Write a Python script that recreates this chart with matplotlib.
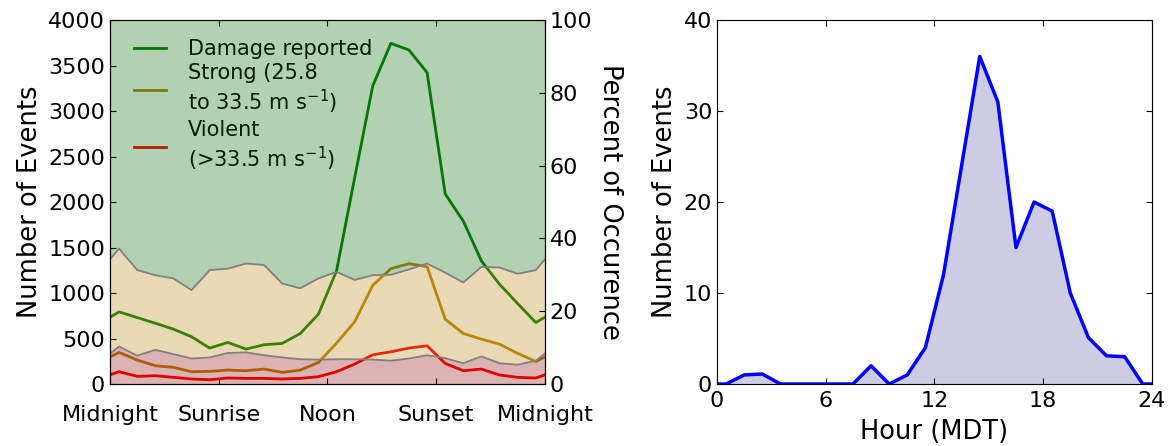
import numpy as np
from matplotlib import pyplot as plt

# hourly bins (bin centres at 0.5 ... 23.5)
hours = np.arange(24) + 0.5

damage = [793, 730, 668, 603, 519, 395, 457, 384, 431, 446, 555, 767,
          1242, 2265, 3277, 3744, 3671, 3423, 2089, 1790, 1352, 1096, 884, 676]
strong = [347, 263, 201, 183, 135, 139, 153, 146, 164, 128, 153, 237,
          449, 683, 1085, 1268, 1322, 1289, 712, 555, 493, 438, 336, 248]
violent = [135, 84, 91, 73, 55, 47, 66, 62, 62, 55, 62, 80,
           135, 219, 321, 354, 395, 420, 226, 146, 164, 99, 73, 66]

violent_pct = [10.3, 7.8, 9.4, 8.2, 7.0, 7.3, 8.5, 8.7, 7.9, 7.3, 6.8, 6.7,
               6.8, 6.8, 6.7, 6.4, 7.0, 7.9, 7.1, 5.7, 7.6, 5.7, 5.3, 6.4]
strong_pct = [26.9, 23.5, 20.5, 20.8, 18.8, 24.0, 23.2, 24.4, 24.8, 20.3, 19.5, 22.3,
              24.0, 21.8, 23.2, 23.6, 24.5, 25.2, 23.5, 22.2, 24.6, 26.3, 25.0, 24.9]

hail_count = [0, 1.0, 1.1, 0, 0, 0, 0, 0, 2.0, 0, 1.0, 4.0,
              12, 24, 36, 31, 15, 20, 19, 10, 5.1, 3.1, 3.0, 0]

day_ticks = [0, 6, 12, 18, 24]
day_labels = ['Midnight', 'Sunrise', 'Noon', 'Sunset', 'Midnight']


def wrap(v):
  # diurnal cycle: repeat last bin before midnight and first bin after
  v = list(v)
  return np.array([v[-1]] + v + [v[0]])

xw = np.concatenate([[-0.5], hours, [24.5]])

plt.rcParams['xtick.direction'] = 'in'
plt.rcParams['ytick.direction'] = 'in'
plt.rcParams['xtick.top'] = True
plt.rcParams['ytick.right'] = True
plt.rcParams['xtick.major.size'] = 4
plt.rcParams['ytick.major.size'] = 4
plt.rcParams['xtick.labelsize'] = 16
plt.rcParams['ytick.labelsize'] = 16
plt.rcParams['axes.labelsize'] = 18.5

fig = plt.figure(figsize=(11.72, 4.46), dpi=100)

# left panel: counts (lines) under stacked percentages (fills)
ax1 = fig.add_axes([0.0939, 0.139, 0.371, 0.816])
ax1.plot(xw, wrap(damage), color='green', lw=2, label='Damage reported')
ax1.plot(xw, wrap(strong), color='darkgoldenrod', lw=2, label='Strong (25.8\nto 33.5 m s$^{-1}$)')
ax1.plot(xw, wrap(violent), color='red', lw=2, label='Violent\n(>33.5 m s$^{-1}$)')
ax1.set_xlim(0, 24)
ax1.set_ylim(0, 4000)
ax1.set_xticks(day_ticks)
ax1.set_xticklabels(day_labels)
ax1.tick_params(axis='x', pad=15)
ax1.set_ylabel('Number of Events')
ax1.legend(loc='upper left', bbox_to_anchor=(0.013, 1.0), frameon=False, fontsize=15,
           handlelength=1.5, handletextpad=1.05, labelspacing=0.2, borderaxespad=0.5)

ax2 = ax1.twinx()
lo = wrap(violent_pct)
hi = lo + wrap(strong_pct)
ax2.fill_between(xw, 0, lo, color='darkred', alpha=0.3, lw=0)
ax2.fill_between(xw, lo, hi, color='darkgoldenrod', alpha=0.3, lw=0)
ax2.fill_between(xw, hi, 100, color='darkgreen', alpha=0.3, lw=0)
ax2.plot(xw, lo, color='gray', lw=1.3)
ax2.plot(xw, hi, color='gray', lw=1.3)
ax2.set_xlim(0, 24)
ax2.set_ylim(0, 100)
ax2.set_ylabel('Percent of Occurence', rotation=270, labelpad=22)

# right panel: hourly event counts
ax3 = fig.add_axes([0.6118, 0.139, 0.371, 0.816])
ax3.fill_between(xw, 0, wrap(hail_count), color='navy', alpha=0.2, lw=0)
ax3.plot(xw, wrap(hail_count), color='blue', lw=2.5)
ax3.set_xlim(0, 24)
ax3.set_ylim(0, 40)
ax3.set_xticks(day_ticks)
ax3.set_yticks([0, 10, 20, 30, 40])
ax3.tick_params(axis='x', pad=5)
ax3.set_xlabel('Hour (MDT)', labelpad=6)
ax3.set_ylabel('Number of Events')

fig.savefig('out.png')
